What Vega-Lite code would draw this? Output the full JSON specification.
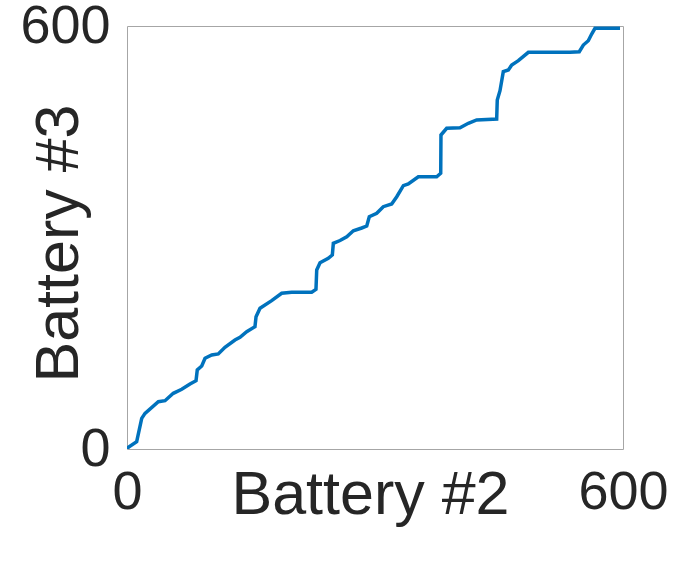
{
  "$schema": "https://vega.github.io/schema/vega-lite/v6.json",
  "width": 496,
  "height": 423,
  "autosize": {"type": "none"},
  "padding": {"left": 127, "top": 26, "right": 52, "bottom": 116},
  "background": "white",
  "config": {
    "view": {"stroke": "#a6a6a6", "strokeWidth": 1},
    "font": "Liberation Sans",
    "axis": {
      "grid": false,
      "domain": false,
      "ticks": false,
      "tickSize": 0,
      "labelFont": "Liberation Sans",
      "titleFont": "Liberation Sans",
      "labelColor": "#262626",
      "titleColor": "#262626",
      "labelFontSize": 54,
      "titleFontSize": 61,
      "titleFontWeight": "normal"
    }
  },
  "data": {
    "values": [
      {"b2": 0, "b3": 0},
      {"b2": 1.6, "b3": 2.4},
      {"b2": 11.7, "b3": 10.4},
      {"b2": 17.8, "b3": 43.5},
      {"b2": 21.8, "b3": 50.6},
      {"b2": 37.9, "b3": 67.1},
      {"b2": 46.0, "b3": 68.5},
      {"b2": 56.0, "b3": 79.0},
      {"b2": 66.2, "b3": 84.7},
      {"b2": 76.2, "b3": 92.2},
      {"b2": 83.5, "b3": 96.9},
      {"b2": 85.0, "b3": 112.1},
      {"b2": 90.4, "b3": 117.7},
      {"b2": 94.4, "b3": 128.7},
      {"b2": 102.5, "b3": 133.3},
      {"b2": 110.4, "b3": 134.8},
      {"b2": 118.5, "b3": 144.3},
      {"b2": 130.6, "b3": 154.6},
      {"b2": 136.7, "b3": 158.4},
      {"b2": 144.8, "b3": 166.4},
      {"b2": 154.8, "b3": 173.5},
      {"b2": 156.1, "b3": 187.7},
      {"b2": 160.9, "b3": 199.6},
      {"b2": 175.0, "b3": 210.4},
      {"b2": 187.1, "b3": 220.9},
      {"b2": 199.2, "b3": 222.3},
      {"b2": 223.4, "b3": 222.3},
      {"b2": 228.6, "b3": 226.5},
      {"b2": 229.5, "b3": 253.9},
      {"b2": 233.5, "b3": 264.2},
      {"b2": 243.5, "b3": 270.5},
      {"b2": 248.4, "b3": 275.2},
      {"b2": 249.6, "b3": 291.8},
      {"b2": 257.7, "b3": 295.7},
      {"b2": 265.8, "b3": 301.1},
      {"b2": 273.8, "b3": 309.6},
      {"b2": 283.9, "b3": 313.5},
      {"b2": 290.0, "b3": 316.3},
      {"b2": 293.1, "b3": 329.5},
      {"b2": 302.1, "b3": 334.3},
      {"b2": 310.0, "b3": 343.7},
      {"b2": 320.2, "b3": 347.5},
      {"b2": 326.3, "b3": 357.9},
      {"b2": 334.3, "b3": 373.5},
      {"b2": 340.3, "b3": 375.9},
      {"b2": 352.4, "b3": 386.2},
      {"b2": 374.6, "b3": 386.2},
      {"b2": 379.5, "b3": 391.1},
      {"b2": 379.8, "b3": 445.4},
      {"b2": 386.7, "b3": 454.9},
      {"b2": 402.8, "b3": 455.7},
      {"b2": 412.9, "b3": 462.0},
      {"b2": 423.0, "b3": 466.7},
      {"b2": 447.2, "b3": 468.1},
      {"b2": 447.9, "b3": 495.0},
      {"b2": 451.2, "b3": 508.2},
      {"b2": 455.2, "b3": 535.2},
      {"b2": 461.3, "b3": 537.6},
      {"b2": 465.4, "b3": 544.7},
      {"b2": 473.4, "b3": 550.8},
      {"b2": 485.5, "b3": 562.7},
      {"b2": 535.9, "b3": 562.7},
      {"b2": 547.1, "b3": 563.5},
      {"b2": 552.0, "b3": 573.0},
      {"b2": 558.0, "b3": 579.1},
      {"b2": 562.1, "b3": 588.6},
      {"b2": 566.1, "b3": 596.7},
      {"b2": 596.4, "b3": 596.7}
    ]
  },
  "mark": {"type": "line", "color": "#0072BD", "strokeWidth": 3.5, "clip": true},
  "encoding": {
    "x": {
      "field": "b2",
      "type": "quantitative",
      "scale": {"domain": [0, 600], "nice": false, "zero": false},
      "axis": {
        "values": [0, 600],
        "title": "Battery #2",
        "labelBaseline": "alphabetic",
        "labelPadding": 59,
        "labelFlush": false,
        "titleX": 243,
        "titleY": 64,
        "titleAlign": "center",
        "titleBaseline": "alphabetic"
      }
    },
    "y": {
      "field": "b3",
      "type": "quantitative",
      "scale": {"domain": [0, 600], "nice": false, "zero": false},
      "axis": {
        "values": [0, 600],
        "title": "Battery #3",
        "labelBaseline": "middle",
        "labelPadding": 17,
        "labelFlush": false,
        "labelOffset": 0,
        "titleX": -50,
        "titleY": 217,
        "titleAngle": -90,
        "titleAlign": "center",
        "titleBaseline": "alphabetic"
      }
    }
  }
}
